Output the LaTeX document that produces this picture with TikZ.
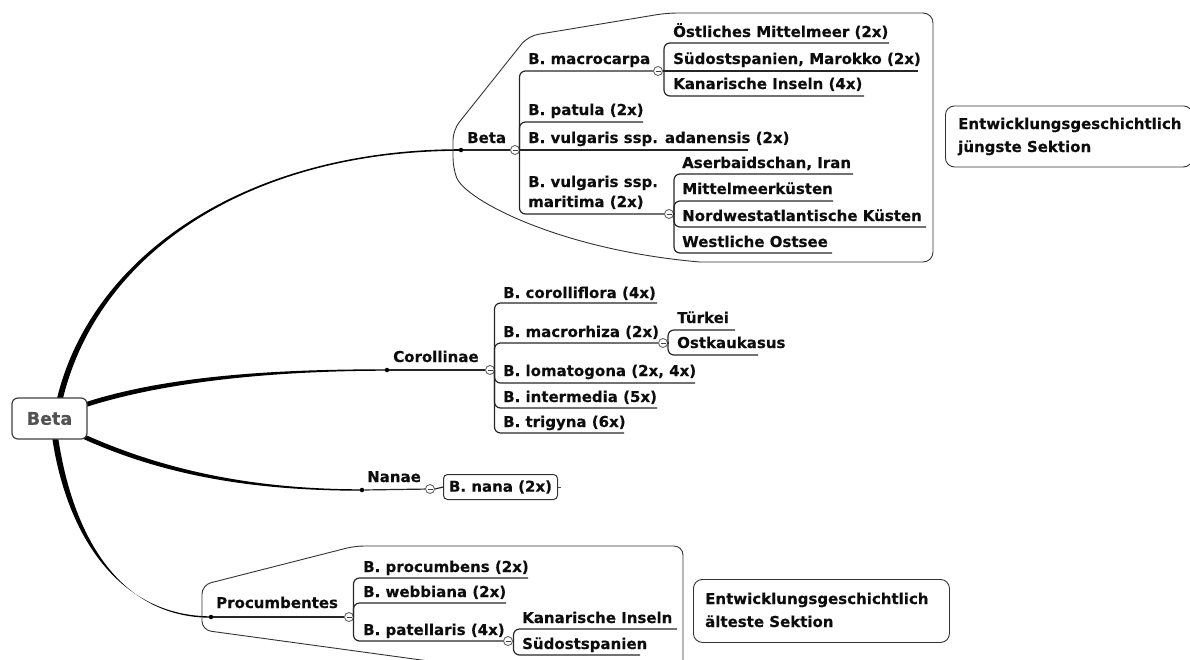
\documentclass[tikz,border=0pt]{standalone}
\usepackage{fontspec}
\setmainfont{DejaVu Sans}[BoldFeatures={FakeBold=0.3}]
\usetikzlibrary{calc,backgrounds}
\begin{document}
\begin{tikzpicture}[x=1pt,y=-1pt,
  every node/.style={inner sep=0pt},
  lab/.style={anchor=base west, font=\fontsize{15}{18}\selectfont\bfseries, text=black!95},
  knot/.style={circle, fill=black, minimum size=4.5pt},
  fold/.style={circle, draw=black!60, fill=white, line width=0.9pt, minimum size=9pt,
    path picture={\draw[black!75, line width=0.8pt]
      ([xshift=-2.5pt]path picture bounding box.center) --
      ([xshift=2.5pt]path picture bounding box.center);}},
  link/.style={draw=black!85, line width=1.2pt},
  tie/.style={draw=black!85, line width=1.2pt, rounded corners=6pt},
  hull/.style={draw=black!80, line width=0.9pt},
  branch/.style={fill=black},
  note/.style={draw=black!80, line width=0.9pt, rounded corners=9pt, fill=white},
]
\useasboundingbox (0,0) rectangle (1190,659);

% ---------- central topic ----------
\node[draw=black!75, line width=1.2pt, rounded corners=6pt, fill=white,
      minimum width=75pt, minimum height=41pt,
      font=\fontsize{17.5}{20}\selectfont\bfseries, text=black!68] (root) at (49.5,418.5) {Beta};

% ---------- section knots ----------
\node[knot] (bK) at (461,150) {};
\node[knot] (cK) at (387,370) {};
\node[knot] (nK) at (362,490) {};
\node[knot] (pK) at (211,617) {};

% ---------- tapered main branches ----------
\begin{scope}[on background layer]
\fill[branch] ([shift={(7pt,-3pt)}]root.north) .. controls +(35,-148) and +(-211,0) .. ([yshift=0.8pt]bK.center)
  -- ([yshift=-0.8pt]bK.center) .. controls +(-211,0) and +(35,-148) .. ([shift={(13pt,-3pt)}]root.north) -- cycle;
\fill[branch] ([shift={(-3pt,16pt)}]root.east) .. controls +(92,-30) and +(-87,0) .. ([yshift=0.7pt]cK.center)
  -- ([yshift=-0.7pt]cK.center) .. controls +(-87,0) and +(92,-30) .. ([shift={(-3pt,11pt)}]root.east) -- cycle;
\fill[branch] ([shift={(-5pt,6pt)}]root.south east) .. controls +(86,39) and +(-102,0) .. ([yshift=0.7pt]nK.center)
  -- ([yshift=-0.7pt]nK.center) .. controls +(-102,0) and +(86,39) .. ([shift={(-5pt,1pt)}]root.south east) -- cycle;
\fill[branch] ([shift={(2.5pt,3pt)}]root.south) .. controls +(15,102) and +(-90,0) .. ([yshift=0.7pt]pK.center)
  -- ([yshift=-0.7pt]pK.center) .. controls +(-90,0) and +(15,102) .. ([shift={(8.5pt,3pt)}]root.south) -- cycle;
\end{scope}

% ---------- boundaries ----------
\draw[hull] (453,168) .. controls (465,200) and (560,250) .. (700,262)
  [rounded corners=10pt] -- (933,262) -- (933,13) -- (667,13) -- (528,36) -- (453,130) -- cycle;
\draw[hull, rounded corners=9pt] (480,668) -- (202,630) -- (202,585) -- (355,546) -- (683,546) -- (683,690);

% ---------- section: Beta ----------
\node[fold] (bF) at (515,150) {};
\coordinate (bS) at (519.5,150);
\draw[link] (bK) -- (bF);
\node[lab] (bL) at (467,143) {Beta};

\node[lab] (b1) at (528,64) {B. macrocarpa};
\node[fold] (b1F) at (658,71) {};
\draw[tie] (bS) |- (b1F.west);
\node[lab] (b2) at (528,115) {B. patula (2x)};
\coordinate (b2E) at (643,122);
\draw[tie] (bS) |- (b2E);
\node[lab] (b3) at (528,143) {B. vulgaris ssp. adanensis (2x)};
\coordinate (b3E) at (748,150);
\draw[link] (bS) -- (b3E);
\node[lab] (b4) at (528,187) {B. vulgaris ssp.};
\node[lab] (b4b) at (528,207) {maritima (2x)};
\node[fold] (b4F) at (669,214) {};
\draw[tie] (bS) |- (b4F.west);

% B. macrocarpa
\coordinate (mS) at (664,71);
\draw[link] (b1F.east) -- (mS);
\node[lab] (m1) at (673,37) {Östliches Mittelmeer (2x)};
\coordinate (m1E) at (889,43);
\draw[tie] (mS) |- (m1E);
\node[lab] (m2) at (673,64) {Südostspanien, Marokko (2x)};
\coordinate (m2E) at (918,71);
\draw[link] (mS) -- (m2E);
\node[lab] (m3) at (673,89) {Kanarische Inseln (4x)};
\coordinate (m3E) at (864,96);
\draw[tie] (mS) |- (m3E);

% B. vulgaris ssp. maritima
\coordinate (rS) at (674,214);
\draw[link] (b4F.east) -- (rS);
\node[lab] (r1) at (682,168) {Aserbaidschan, Iran};
\coordinate (r1E) at (853,174);
\draw[tie] (rS) |- (r1E);
\node[lab] (r2) at (682,194) {Mittelmeerküsten};
\coordinate (r2E) at (833,201);
\draw[tie] (rS) |- (r2E);
\node[lab] (r3) at (682,221) {Nordwestatlantische Küsten};
\coordinate (r3E) at (926,227);
\draw[tie] (rS) |- (r3E);
\node[lab] (r4) at (682,247) {Westliche Ostsee};
\coordinate (r4E) at (832,253);
\draw[tie] (rS) |- (r4E);

% ---------- section: Corollinae ----------
\node[fold] (cF) at (490,370) {};
\coordinate (cS) at (494.5,370);
\draw[link] (cK) -- (cF);
\node[lab] (cL) at (393,362) {Corollinae};

\node[lab] (c1) at (503,298) {B. corolliflora (4x)};
\coordinate (c1E) at (657,303);
\draw[tie] (cS) |- (c1E);
\node[lab] (c2) at (503,337) {B. macrorhiza (2x)};
\node[fold] (c2F) at (663,343) {};
\draw[tie] (cS) |- (c2F.west);
\node[lab] (c3) at (503,376) {B. lomatogona (2x, 4x)};
\coordinate (c3E) at (695,383);
\draw[tie] (cS) |- (c3E);
\node[lab] (c4) at (503,402) {B. intermedia (5x)};
\coordinate (c4E) at (657,408);
\draw[tie] (cS) |- (c4E);
\node[lab] (c5) at (503,427) {B. trigyna (6x)};
\coordinate (c5E) at (624,433);
\draw[tie] (cS) |- (c5E);

% B. macrorhiza
\coordinate (tS) at (668,343);
\draw[link] (c2F.east) -- (tS);
\node[lab] (t1) at (677,323) {Türkei};
\coordinate (t1E) at (735,330);
\draw[tie] (tS) |- (t1E);
\node[lab] (t2) at (677,348) {Ostkaukasus};
\coordinate (t2E) at (758,355);
\draw[tie] (tS) |- (t2E);

% ---------- section: Nanae ----------
\node[fold] (nF) at (430,489) {};
\draw[link] (nK) -- (nF);
\node[lab] (nL) at (367,482) {Nanae};
\node[draw=black!80, line width=1pt, rounded corners=4pt, fill=white,
      minimum width=114pt, minimum height=25pt, anchor=west,
      font=\fontsize{15}{18}\selectfont\bfseries, text=black!95] (nana) at (443,487) {B. nana (2x)};
\draw[link] (nF.east) -- (nana.west);
\coordinate (nEnd) at (561,487);
\draw[draw=black!70, line width=0.8pt] (nana.east) -- (nEnd);

% ---------- section: Procumbentes ----------
\node[fold] (pF) at (349,617) {};
\coordinate (pS) at (353.5,617);
\draw[link] (pK) -- (pF);
\node[lab] (pL) at (216,608) {Procumbentes};

\node[lab] (p1) at (363,572) {B. procumbens (2x)};
\coordinate (p1E) at (528,578);
\draw[tie] (pS) |- (p1E);
\node[lab] (p2) at (363,597) {B. webbiana (2x)};
\coordinate (p2E) at (506,603);
\draw[tie] (pS) |- (p2E);
\node[lab] (p3) at (363,635) {B. patellaris (4x)};
\node[fold] (p3F) at (508,641) {};
\draw[tie] (pS) |- (p3F.west);

% B. patellaris
\coordinate (qS) at (513.5,641);
\draw[link] (p3F.east) -- (qS);
\node[lab] (q1) at (522,623) {Kanarische Inseln};
\coordinate (q1E) at (677,629);
\draw[tie] (qS) |- (q1E);
\node[lab] (q2) at (522,649) {Südostspanien};
\coordinate (q2E) at (640,655);
\draw[tie] (qS) |- (q2E);

% ---------- notes ----------
\node[note, anchor=north west, minimum width=247pt, minimum height=61pt] (note1) at (945,105.5) {};
\node[lab] (note1a) at (958,129) {Entwicklungsgeschichtlich};
\node[lab] (note1b) at (958,152) {jüngste Sektion};

\node[note, anchor=north west, minimum width=256pt, minimum height=63pt] (note2) at (693,579) {};
\node[lab] (note2a) at (705,604) {Entwicklungsgeschichtlich};
\node[lab] (note2b) at (705,627) {älteste Sektion};
\end{tikzpicture}
\end{document}
